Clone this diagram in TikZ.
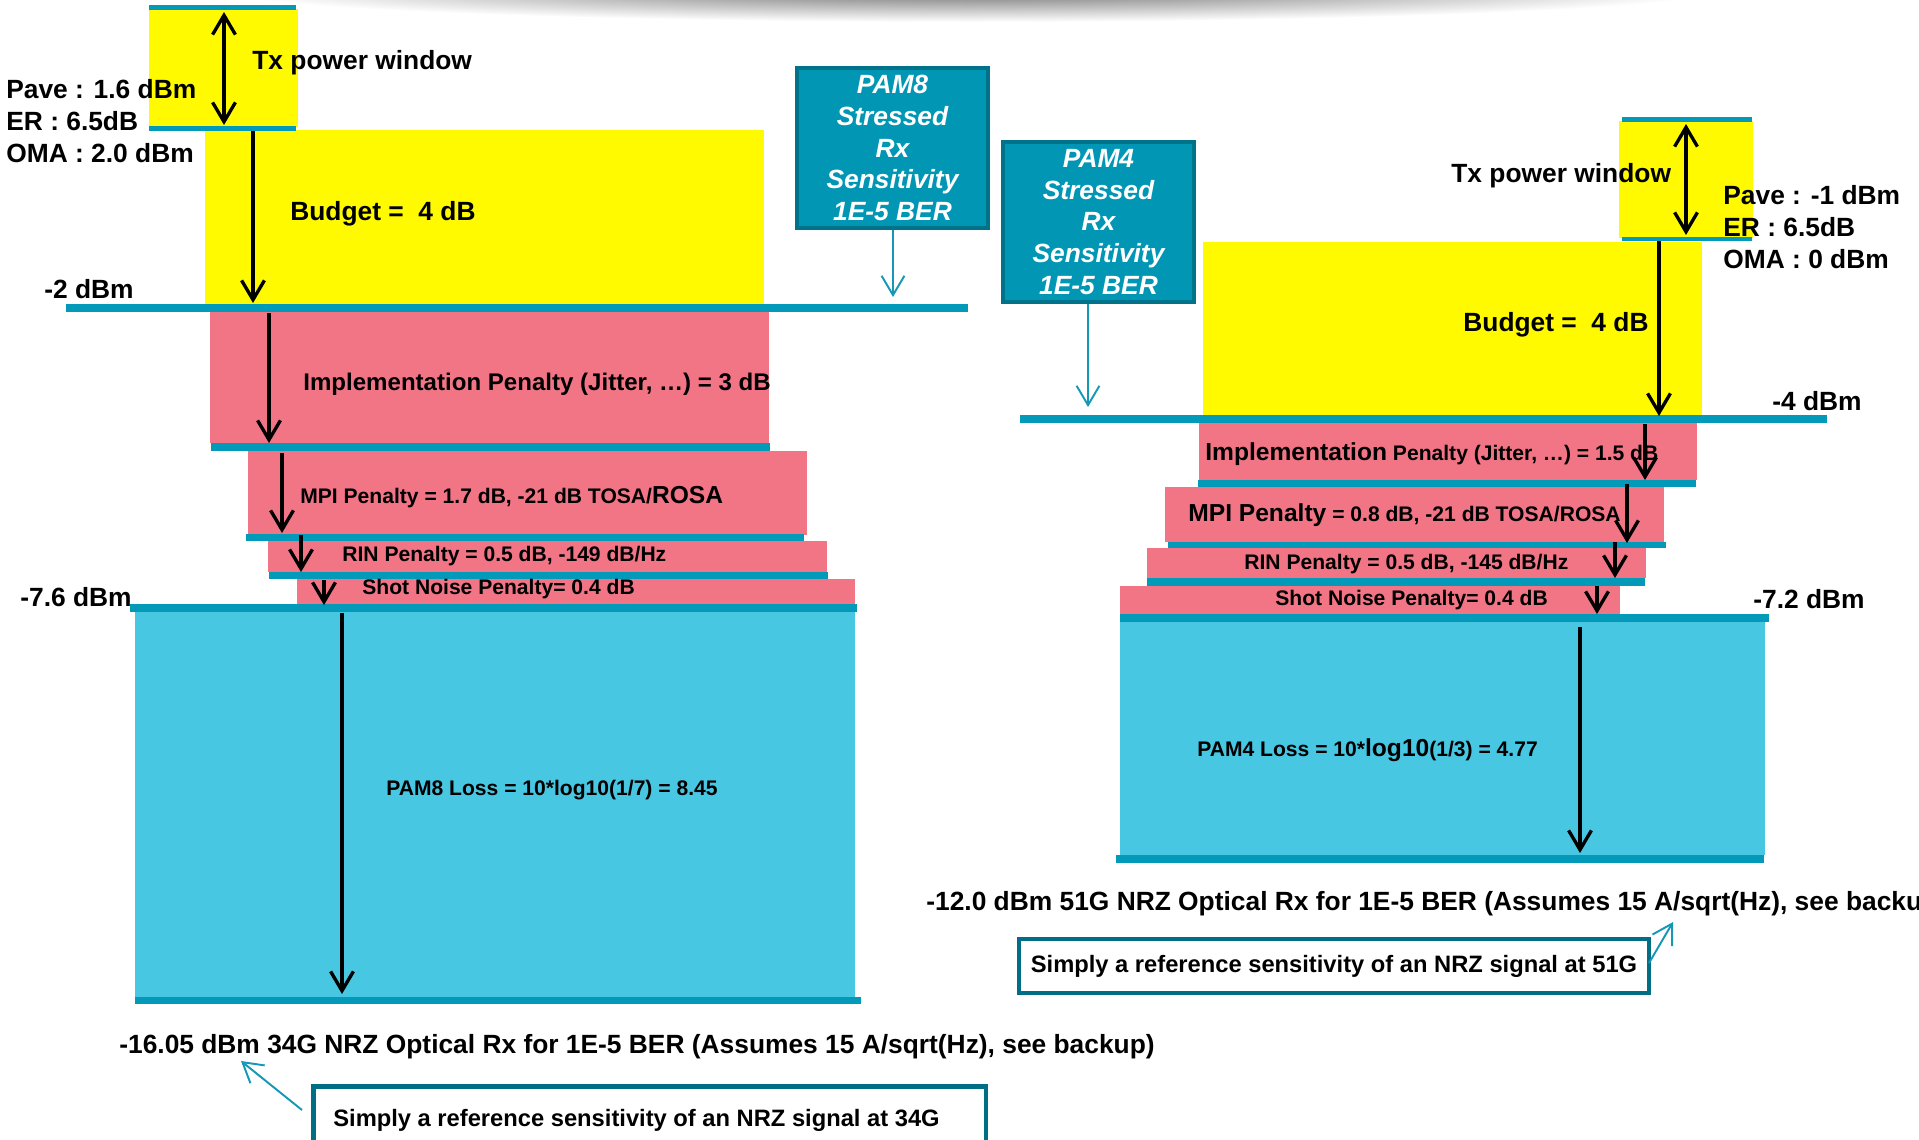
\documentclass[tikz,border=0pt]{standalone}
\usepackage{fontspec}
\setmainfont{Liberation Sans}
\usetikzlibrary{arrows.meta}

\definecolor{budgetyellow}{HTML}{FFFA00}
\definecolor{penaltypink}{HTML}{F27586}
\definecolor{losscyan}{HTML}{47C7E2}
\definecolor{levelline}{HTML}{0399B8}
\definecolor{pamfill}{HTML}{0096B4}
\definecolor{pamedge}{HTML}{00738A}
\definecolor{noteedge}{HTML}{006F86}
\definecolor{calloutblue}{HTML}{1597B5}

\begin{document}
\begin{tikzpicture}[
  x=0.02cm, y=-0.02cm,
  lbl/.style={anchor=west, inner sep=0pt, font=\bfseries\fontsize{15}{18.1}\selectfont},
  midlbl/.style={anchor=west, inner sep=0pt, font=\bfseries\fontsize{13.7}{16}\selectfont},
  smlbl/.style={anchor=west, inner sep=0pt, font=\bfseries\fontsize{12}{14}\selectfont},
  stack/.style={lbl, align=left},
  drop/.style={line width=1.9pt, -{Straight Barb[length=11pt, width=13pt]}},
  window/.style={line width=1.9pt, {Straight Barb[length=11pt, width=13pt]}-{Straight Barb[length=11pt, width=13pt]}},
  callout/.style={line width=1.1pt, draw=calloutblue, -{Straight Barb[length=11pt, width=13pt]}},
  pambox/.style={draw=pamedge, line width=2.4pt, fill=pamfill, text=white, align=center,
    font=\bfseries\itshape\fontsize{15}{18.1}\selectfont, inner sep=0pt,
    minimum width=3.82cm, minimum height=3.2cm},
  notebox/.style={draw=noteedge, line width=2.6pt, fill=white, inner sep=0pt,
    font=\bfseries\fontsize{13.5}{16}\selectfont}
]
\useasboundingbox (0,0) rectangle (1919,1139);
\clip (0,0) rectangle (1919,1139);

% shadow along the top edge
\shade[inner color=black!60, outer color=white] (970,-12) ellipse [x radius=760, y radius=34];

% ---------------- PAM8 (left) ----------------
% Bands
\fill[budgetyellow] (149,9) rectangle (298,127);
\fill[budgetyellow] (205,130) rectangle (764,304);
\fill[penaltypink] (210,312) rectangle (769,443);
\fill[penaltypink] (248,451) rectangle (807,535);
\fill[penaltypink] (268,541) rectangle (827,572);
\fill[penaltypink] (297,579) rectangle (855,604);
\fill[losscyan] (135,612) rectangle (855,997);

% Level lines
\fill[levelline] (149,5) rectangle (296,10);
\fill[levelline] (149,126) rectangle (296,131);
\fill[levelline] (66,304) rectangle (968,312);
\fill[levelline] (211,443) rectangle (770,451);
\fill[levelline] (246,534) rectangle (804,541);
\fill[levelline] (269,572) rectangle (828,579);
\fill[levelline] (130,604) rectangle (857,612);
\fill[levelline] (135,997) rectangle (861,1004);

% Labels
\node[lbl] (ltx) at (252,63) {Tx power window};
\node[stack] (lpave) at (6,121) {Pave : 1.6 dBm\\ER : 6.5dB\\OMA : 2.0 dBm};
\node[lbl] (lbudget) at (290,214) {Budget =~~4 dB};
\node[lbl] (lminus2) at (44,289) {-2 dBm};
\node[midlbl] (limpl) at (303,384) {Implementation Penalty (Jitter, …) = 3 dB};
\node[smlbl] (lmpi) at (300,497) {MPI Penalty = 1.7 dB, -21 dB TOSA/{\fontsize{14}{16}\selectfont ROSA}};
\node[smlbl] (lrin) at (342,556) {RIN Penalty = 0.5 dB, -149 dB/Hz};
\node[smlbl] (lshot) at (362,589) {Shot Noise Penalty= 0.4 dB};
\node[lbl] (lminus76) at (20,597) {-7.6 dBm};
\node[smlbl] (lloss) at (386,790) {PAM8 Loss = 10*log10(1/7) = 8.45};
\node[lbl] (lsens) at (119,1047) {-16.05 dBm 34G NRZ Optical Rx for 1E-5 BER (Assumes 15 A/sqrt(Hz), see backup)};
\node[notebox, minimum width=13.46cm, minimum height=1.6cm, anchor=north west] (lnote) at (311,1084) {};
\node[anchor=west, inner sep=0pt, font=\bfseries\fontsize{13.5}{16}\selectfont] (lnotetext) at (333,1120) {Simply a reference sensitivity of an NRZ signal at 34G};
\node[pambox] (pam8) at (892.5,148) {PAM8\\Stressed\\Rx\\Sensitivity\\1E-5 BER};

% Arrow ends
\coordinate (ltxtop) at (224,12);
\coordinate (ltxbot) at (224,125);
\coordinate (lbudtop) at (253,131);
\coordinate (lbudbot) at (253,303);
\coordinate (limptop) at (269,313);
\coordinate (limpbot) at (269,443);
\coordinate (lmpitop) at (282,453);
\coordinate (lmpibot) at (282,533);
\coordinate (lrintop) at (301,535);
\coordinate (lrinbot) at (301,572);
\coordinate (lshottop) at (324,580);
\coordinate (lshotbot) at (324,605);
\coordinate (llosstop) at (342,613);
\coordinate (llossbot) at (342,994);
\coordinate (pam8tip) at (893,297);
\coordinate (lnotetail) at (302,1110);
\coordinate (lnotetip) at (241,1061);

% Arrows
\draw[window] (ltxtop) -- (ltxbot);
\draw[drop] (lbudtop) -- (lbudbot);
\draw[drop] (limptop) -- (limpbot);
\draw[drop] (lmpitop) -- (lmpibot);
\draw[drop] (lrintop) -- (lrinbot);
\draw[drop] (lshottop) -- (lshotbot);
\draw[drop] (llosstop) -- (llossbot);
\draw[callout] (pam8.south -| pam8tip) -- (pam8tip);
\draw[callout] (lnotetail) -- (lnotetip);

% ---------------- PAM4 (right) ----------------
% Bands
\fill[budgetyellow] (1619,121) rectangle (1753,238);
\fill[budgetyellow] (1203,242) rectangle (1702,417);
\fill[penaltypink] (1199,423) rectangle (1697,480);
\fill[penaltypink] (1165,487) rectangle (1664,542);
\fill[penaltypink] (1147,548) rectangle (1646,578);
\fill[penaltypink] (1120,586) rectangle (1620,614);
\fill[losscyan] (1120,622) rectangle (1765,855);

% Level lines
\fill[levelline] (1622,117) rectangle (1752,122);
\fill[levelline] (1622,237) rectangle (1752,241);
\fill[levelline] (1020,415) rectangle (1827,423);
\fill[levelline] (1198,480) rectangle (1696,487);
\fill[levelline] (1168,542) rectangle (1666,548);
\fill[levelline] (1147,578) rectangle (1645,586);
\fill[levelline] (1120,614) rectangle (1769,622);
\fill[levelline] (1116,855) rectangle (1764,863);

% Labels
\node[lbl] (rtx) at (1451,176) {Tx power window};
\node[stack] (rpave) at (1723,227) {Pave : -1 dBm\\ER : 6.5dB\\OMA : 0 dBm};
\node[lbl] (rbudget) at (1463,325) {Budget =~~4 dB};
\node[lbl] (rminus4) at (1772,401) {-4 dBm};
\node[smlbl] (rimpl) at (1205,454) {{\fontsize{14}{16}\selectfont Implementation} Penalty (Jitter, …) = 1.5 dB};
\node[smlbl] (rmpi) at (1188,515) {{\fontsize{14}{16}\selectfont MPI Penalty} = 0.8 dB, -21 dB TOSA/ROSA};
\node[smlbl] (rrin) at (1244,564) {RIN Penalty = 0.5 dB, -145 dB/Hz};
\node[smlbl] (rshot) at (1275,600) {Shot Noise Penalty= 0.4 dB};
\node[lbl] (rminus72) at (1753,599) {-7.2 dBm};
\node[smlbl] (rloss) at (1197,750) {PAM4 Loss = 10*{\fontsize{14}{16}\selectfont log10}(1/3) = 4.77};
\node[lbl] (rsens) at (926,904) {-12.0 dBm 51G NRZ Optical Rx for 1E-5 BER (Assumes 15 A/sqrt(Hz), see backup)};
\node[notebox, minimum width=12.6cm, minimum height=1.08cm] (rnote) at (1334,966) {Simply a reference sensitivity of an NRZ signal at 51G};
\node[pambox] (pam4) at (1098.5,222) {PAM4\\Stressed\\Rx\\Sensitivity\\1E-5 BER};

% Arrow ends
\coordinate (rtxtop) at (1686,124);
\coordinate (rtxbot) at (1686,235);
\coordinate (rbudtop) at (1659,241);
\coordinate (rbudbot) at (1659,416);
\coordinate (rimptop) at (1645,424);
\coordinate (rimpbot) at (1645,480);
\coordinate (rmpitop) at (1627,484);
\coordinate (rmpibot) at (1627,543);
\coordinate (rrintop) at (1615,542);
\coordinate (rrinbot) at (1615,578);
\coordinate (rshottop) at (1597,586);
\coordinate (rshotbot) at (1597,614);
\coordinate (rlosstop) at (1580,627);
\coordinate (rlossbot) at (1580,853);
\coordinate (pam4tip) at (1088,407);
\coordinate (rnotetail) at (1649,963);
\coordinate (rnotetip) at (1673,922);

% Arrows
\draw[window] (rtxtop) -- (rtxbot);
\draw[drop] (rbudtop) -- (rbudbot);
\draw[drop] (rimptop) -- (rimpbot);
\draw[drop] (rmpitop) -- (rmpibot);
\draw[drop] (rrintop) -- (rrinbot);
\draw[drop] (rshottop) -- (rshotbot);
\draw[drop] (rlosstop) -- (rlossbot);
\draw[callout] (pam4.south -| pam4tip) -- (pam4tip);
\draw[callout] (rnotetail) -- (rnotetip);

\end{tikzpicture}
\end{document}
